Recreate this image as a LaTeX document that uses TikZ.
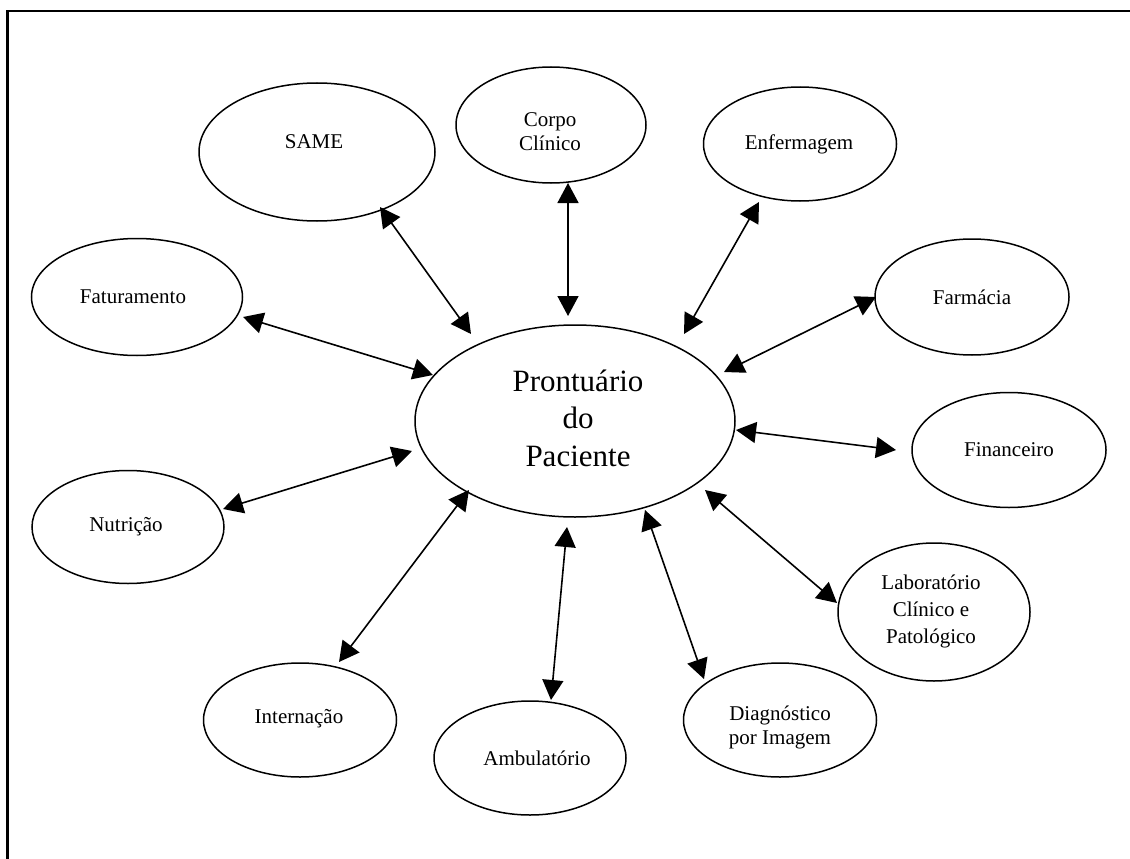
\documentclass[tikz,border=0pt]{standalone}
\usepackage{fontspec}
\setmainfont{Liberation Serif}
\usetikzlibrary{shapes.geometric,arrows.meta}
\begin{document}
\begin{tikzpicture}[x=1pt,y=-1pt,
  unit/.style={ellipse,draw,line width=1.5pt,inner sep=0pt},
  caption/.style={align=center,inner sep=0pt,font=\fontsize{21}{24}\selectfont},
  bigcaption/.style={align=center,inner sep=0pt,font=\fontsize{31}{37.5}\selectfont},
  link/.style={{Triangle[length=20pt,width=21pt]}-{Triangle[length=20pt,width=21pt]},line width=1.6pt},
  frame/.style={line width=2.2pt}
]
\useasboundingbox (0,0) rectangle (1130,859);
% open frame: left and top edges
\coordinate (fbl) at (7.5,859);
\coordinate (ftr) at (1130,11);
\draw[frame] (fbl) |- (ftr);

% central record
\node[unit,minimum width=320pt,minimum height=192pt] (pac) at (575,421) {};
\node[bigcaption] (pac-t) at (578,418) {Prontuário\\do\\Paciente};

% departments (outlines)
\node[unit,minimum width=236pt,minimum height=138pt] (same) at (317,152) {};
\node[unit,minimum width=190pt,minimum height=116pt] (corpo) at (551,125) {};
\node[unit,minimum width=193pt,minimum height=114pt] (enf) at (800,144) {};
\node[unit,minimum width=194pt,minimum height=116pt] (farm) at (972,297) {};
\node[unit,minimum width=194pt,minimum height=115pt] (fin) at (1009,450) {};
\node[unit,minimum width=192pt,minimum height=138pt] (lab) at (934,612) {};
\node[unit,minimum width=193pt,minimum height=114pt] (diag) at (780,720) {};
\node[unit,minimum width=192pt,minimum height=114pt] (amb) at (530,758) {};
\node[unit,minimum width=193pt,minimum height=114pt] (int) at (300,720) {};
\node[unit,minimum width=192pt,minimum height=113pt] (nut) at (128,527) {};
\node[unit,minimum width=211pt,minimum height=117pt] (fat) at (137,297) {};

% department names
\node[caption] (same-t) at (314,142) {SAME};
\node[caption] (corpo-t) at (550,132) {Corpo\\Clínico};
\node[caption] (enf-t) at (799,144) {Enfermagem};
\node[caption] (farm-t) at (972,297) {Farmácia};
\node[caption] (fin-t) at (1009,450) {Financeiro};
\node[caption,font=\fontsize{21}{27}\selectfont] (lab-t) at (931,611) {Laboratório\\Clínico e\\Patológico};
\node[caption] (diag-t) at (780,727) {Diagnóstico\\por Imagem};
\node[caption] (amb-t) at (537,758) {Ambulatório};
\node[caption] (int-t) at (299,719) {Internação};
\node[caption] (nut-t) at (126,527) {Nutrição};
\node[caption] (fat-t) at (133,297) {Faturamento};

% arrow ends
\coordinate (a1) at (471,334); \coordinate (b1) at (380,207);
\coordinate (a2) at (568,316); \coordinate (b2) at (568,183);
\coordinate (a3) at (684,334); \coordinate (b3) at (759,202);
\coordinate (a4) at (724,372); \coordinate (b4) at (876,297);
\coordinate (a5) at (736,430); \coordinate (b5) at (896,450);
\coordinate (a6) at (705,490); \coordinate (b6) at (837,603);
\coordinate (a7) at (645,510); \coordinate (b7) at (704,679);
\coordinate (a8) at (567,527); \coordinate (b8) at (551,700);
\coordinate (a9) at (469,490); \coordinate (b9) at (339,662);
\coordinate (a10) at (412,451); \coordinate (b10) at (223,509);
\coordinate (a11) at (433,375); \coordinate (b11) at (243,317);

\foreach \i in {1,...,11} \draw[link] (a\i) -- (b\i);
\end{tikzpicture}
\end{document}
